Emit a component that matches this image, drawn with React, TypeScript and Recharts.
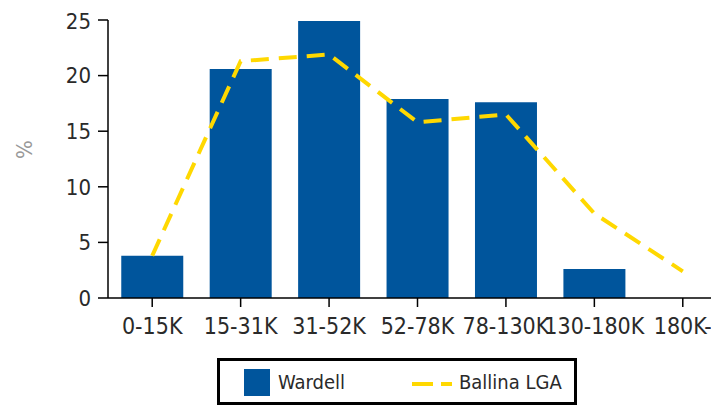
import {
  ComposedChart,
  Bar,
  Line,
  XAxis,
  YAxis,
} from "recharts";

const categories = ["0-15K", "15-31K", "31-52K", "52-78K", "78-130K", "130-180K", "180K-"];
const wardell = [3.8, 20.6, 24.9, 17.9, 17.6, 2.6, 0];
const ballina = [3.8, 21.3, 21.9, 15.8, 16.5, 7.6, 2.4];
const yTicks = [0, 5, 10, 15, 20, 25];

const data = categories.map((name, i) => ({
  name,
  wardell: wardell[i],
  ballina: ballina[i],
}));

const FONT = "'DejaVu Sans Condensed', 'DejaVu Sans', sans-serif";
const BLUE = "#00559c";
const YELLOW = "#ffd800";
const TEXT = "#2a2a2a";

function ChartLegend() {
  return (
    <div
      style={{
        position: "absolute",
        left: 209,
        top: 350,
        width: 360,
        height: 47,
        boxSizing: "border-box",
        border: "3px solid #000",
        background: "#fff",
        fontFamily: FONT,
        fontSize: 20,
        color: TEXT,
      }}
    >
      <span
        style={{
          position: "absolute",
          left: 24,
          top: 8,
          width: 26,
          height: 27,
          background: BLUE,
        }}
      />
      <span style={{ position: "absolute", left: 58, top: 9, lineHeight: "24px" }}>Wardell</span>
      <svg width={40} height={10} style={{ position: "absolute", left: 192, top: 18 }}>
        <line x1={0} y1={5} x2={40} y2={5} stroke={YELLOW} strokeWidth={4} strokeDasharray="21 8" />
      </svg>
      <span style={{ position: "absolute", left: 239, top: 9, lineHeight: "24px" }}>Ballina LGA</span>
    </div>
  );
}

export default function App() {
  return (
    <div style={{ position: "relative", width: 711, height: 399, overflow: "hidden" }}>
      <ComposedChart
        width={730}
        height={399}
        data={data}
        margin={{ top: 12, right: 11, bottom: 69, left: 0 }}
        barCategoryGap="15%"
        style={{ fontFamily: FONT }}
      >
        <XAxis
          dataKey="name"
          height={40}
          interval={0}
          tickSize={9}
          tickMargin={11}
          axisLine={{ stroke: "#000", strokeWidth: 1.5 }}
          tickLine={{ stroke: "#000", strokeWidth: 1.5 }}
          tick={{ fontSize: 23, fill: TEXT }}
        />
        <YAxis
          width={100}
          domain={[0, 25]}
          ticks={yTicks}
          tickSize={10}
          tickMargin={7}
          axisLine={{ stroke: "#000", strokeWidth: 1.5 }}
          tickLine={{ stroke: "#000", strokeWidth: 1.5 }}
          tick={{ fontSize: 22, fill: TEXT }}
          label={{
            value: "%",
            angle: -90,
            position: "insideLeft",
            offset: 16,
            style: { fontSize: 22, fill: "#999" },
          }}
        />
        <Bar dataKey="wardell" fill={BLUE} isAnimationActive={false} />
        <Line
          type="linear"
          dataKey="ballina"
          stroke={YELLOW}
          strokeWidth={4}
          strokeDasharray="18 10"
          dot={false}
          activeDot={false}
          isAnimationActive={false}
        />
      </ComposedChart>
      <ChartLegend />
    </div>
  );
}
